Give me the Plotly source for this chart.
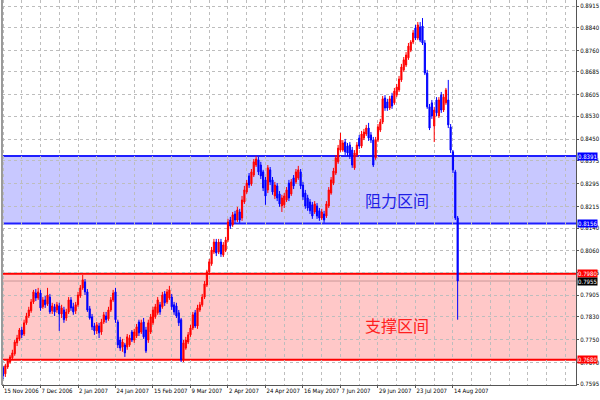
import plotly.graph_objects as go

open_ = [0.7652,0.7631,0.7655,0.7672,0.7687,0.7701,0.7739,0.7753,0.7784,0.7770,
0.7809,0.7833,0.7851,0.7882,0.7913,0.7896,0.7913,0.7865,0.7889,0.7875,
0.7899,0.7851,0.7865,0.7854,0.7868,0.7840,0.7854,0.7826,0.7847,0.7889,
0.7865,0.7851,0.7872,0.7903,0.7931,0.7952,0.7917,0.7858,0.7830,0.7798,
0.7781,0.7798,0.7777,0.7812,0.7833,0.7823,0.7854,0.7889,0.7917,0.7812,
0.7749,0.7725,0.7732,0.7725,0.7732,0.7777,0.7749,0.7763,0.7812,0.7777,
0.7812,0.7784,0.7749,0.7777,0.7809,0.7830,0.7844,0.7872,0.7865,0.7910,
0.7882,0.7896,0.7899,0.7872,0.7868,0.7844,0.7820,0.7680,0.7721,0.7742,
0.7767,0.7791,0.7844,0.7798,0.7854,0.7872,0.7899,0.7941,0.7987,0.8015,
0.8056,0.8091,0.8056,0.8091,0.8046,0.8063,0.8098,0.8168,0.8151,0.8189,
0.8168,0.8196,0.8175,0.8231,0.8266,0.8322,0.8294,0.8325,0.8360,0.8378,
0.8360,0.8336,0.8308,0.8273,0.8343,0.8308,0.8252,0.8287,0.8259,0.8217,
0.8221,0.8238,0.8297,0.8259,0.8315,0.8301,0.8315,0.8336,0.8290,0.8262,
0.8245,0.8231,0.8221,0.8196,0.8217,0.8200,0.8175,0.8189,0.8182,0.8217,
0.8262,0.8297,0.8332,0.8371,0.8412,0.8412,0.8440,0.8426,0.8430,0.8412,
0.8350,0.8395,0.8454,0.8426,0.8454,0.8468,0.8489,0.8465,0.8447,0.8385,
0.8447,0.8482,0.8510,0.8594,0.8580,0.8559,0.8601,0.8577,0.8604,0.8622,
0.8657,0.8692,0.8709,0.8734,0.8761,0.8789,0.8838,0.8803,0.8842,0.8845,
0.8786,0.8681,0.8563,0.8577,0.8496,0.8587,0.8531,0.8604,0.8552,0.8577,
0.8587,0.8493,0.8406,0.8336,0.8175]

high = [0.7659,0.7666,0.7683,0.7697,0.7715,0.7749,0.7767,0.7791,0.7795,0.7820,
0.7844,0.7865,0.7892,0.7924,0.7927,0.7931,0.7924,0.7899,0.7903,0.7931,
0.7910,0.7879,0.7875,0.7882,0.7879,0.7872,0.7865,0.7858,0.7899,0.7899,
0.7879,0.7882,0.7917,0.7941,0.7976,0.7962,0.7927,0.7868,0.7840,0.7809,
0.7812,0.7809,0.7823,0.7847,0.7847,0.7865,0.7899,0.7924,0.7931,0.7820,
0.7760,0.7753,0.7739,0.7770,0.7767,0.7784,0.7788,0.7805,0.7820,0.7820,
0.7826,0.7795,0.7820,0.7840,0.7865,0.7875,0.7899,0.7882,0.7917,0.7920,
0.7927,0.7938,0.7910,0.7882,0.7879,0.7854,0.7826,0.7749,0.7760,0.7777,
0.7802,0.7847,0.7854,0.7872,0.7882,0.7910,0.7955,0.7994,0.8032,0.8074,
0.8102,0.8102,0.8102,0.8102,0.8091,0.8109,0.8172,0.8179,0.8196,0.8200,
0.8214,0.8207,0.8252,0.8287,0.8308,0.8332,0.8346,0.8381,0.8392,0.8388,
0.8371,0.8343,0.8318,0.8360,0.8353,0.8318,0.8301,0.8297,0.8269,0.8256,
0.8262,0.8283,0.8308,0.8311,0.8325,0.8346,0.8357,0.8346,0.8301,0.8273,
0.8256,0.8241,0.8231,0.8234,0.8227,0.8210,0.8207,0.8200,0.8234,0.8283,
0.8318,0.8350,0.8395,0.8430,0.8472,0.8447,0.8451,0.8437,0.8440,0.8423,
0.8412,0.8440,0.8465,0.8479,0.8486,0.8500,0.8507,0.8475,0.8458,0.8458,
0.8503,0.8521,0.8601,0.8604,0.8591,0.8601,0.8612,0.8629,0.8643,0.8671,
0.8713,0.8737,0.8754,0.8786,0.8796,0.8831,0.8849,0.8859,0.8859,0.8873,
0.8796,0.8692,0.8573,0.8587,0.8563,0.8597,0.8597,0.8615,0.8608,0.8629,
0.8657,0.8503,0.8412,0.8343,0.8182]

low = [0.7613,0.7620,0.7648,0.7666,0.7680,0.7694,0.7728,0.7746,0.7756,0.7763,
0.7802,0.7826,0.7844,0.7875,0.7885,0.7889,0.7851,0.7858,0.7861,0.7868,
0.7840,0.7840,0.7833,0.7844,0.7781,0.7826,0.7809,0.7816,0.7840,0.7851,
0.7837,0.7840,0.7865,0.7896,0.7924,0.7906,0.7847,0.7820,0.7784,0.7767,
0.7770,0.7756,0.7767,0.7805,0.7809,0.7816,0.7847,0.7882,0.7809,0.7721,
0.7711,0.7708,0.7690,0.7715,0.7725,0.7742,0.7739,0.7756,0.7763,0.7770,
0.7753,0.7704,0.7739,0.7770,0.7802,0.7823,0.7837,0.7837,0.7858,0.7868,
0.7875,0.7889,0.7854,0.7837,0.7826,0.7798,0.7672,0.7672,0.7715,0.7735,
0.7760,0.7784,0.7791,0.7788,0.7847,0.7865,0.7892,0.7934,0.7976,0.8008,
0.8049,0.8042,0.8049,0.8039,0.8039,0.8056,0.8091,0.8137,0.8144,0.8158,
0.8161,0.8158,0.8165,0.8224,0.8259,0.8280,0.8287,0.8318,0.8353,0.8325,
0.8311,0.8269,0.8221,0.8262,0.8290,0.8256,0.8241,0.8234,0.8214,0.8196,
0.8210,0.8231,0.8234,0.8252,0.8276,0.8294,0.8308,0.8276,0.8238,0.8207,
0.8200,0.8189,0.8172,0.8189,0.8172,0.8165,0.8168,0.8158,0.8175,0.8210,
0.8256,0.8290,0.8325,0.8364,0.8406,0.8406,0.8395,0.8392,0.8381,0.8350,
0.8343,0.8388,0.8416,0.8419,0.8447,0.8461,0.8444,0.8437,0.8353,0.8378,
0.8440,0.8475,0.8503,0.8549,0.8549,0.8552,0.8556,0.8570,0.8597,0.8615,
0.8650,0.8685,0.8702,0.8727,0.8754,0.8782,0.8796,0.8796,0.8789,0.8779,
0.8674,0.8556,0.8482,0.8521,0.8440,0.8531,0.8524,0.8542,0.8545,0.8570,
0.8489,0.8402,0.8332,0.8168,0.7820]

close = [0.7624,0.7659,0.7676,0.7690,0.7704,0.7742,0.7756,0.7784,0.7767,0.7809,
0.7833,0.7854,0.7882,0.7917,0.7896,0.7917,0.7861,0.7889,0.7872,0.7906,
0.7847,0.7868,0.7847,0.7872,0.7840,0.7861,0.7820,0.7847,0.7889,0.7861,
0.7847,0.7872,0.7906,0.7931,0.7959,0.7917,0.7854,0.7826,0.7795,0.7781,
0.7802,0.7774,0.7812,0.7837,0.7820,0.7854,0.7889,0.7913,0.7820,0.7732,
0.7721,0.7742,0.7704,0.7760,0.7756,0.7749,0.7777,0.7795,0.7774,0.7809,
0.7760,0.7711,0.7809,0.7830,0.7854,0.7865,0.7889,0.7847,0.7906,0.7879,
0.7917,0.7924,0.7865,0.7847,0.7833,0.7809,0.7680,0.7739,0.7749,0.7767,
0.7791,0.7837,0.7798,0.7861,0.7872,0.7899,0.7945,0.7987,0.8022,0.8063,
0.8091,0.8053,0.8091,0.8049,0.8081,0.8098,0.8161,0.8147,0.8186,0.8168,
0.8203,0.8168,0.8238,0.8273,0.8297,0.8290,0.8336,0.8371,0.8381,0.8336,
0.8322,0.8280,0.8252,0.8350,0.8301,0.8266,0.8290,0.8245,0.8224,0.8245,
0.8252,0.8273,0.8245,0.8301,0.8287,0.8336,0.8343,0.8287,0.8249,0.8217,
0.8210,0.8200,0.8182,0.8224,0.8182,0.8175,0.8196,0.8168,0.8224,0.8273,
0.8308,0.8339,0.8385,0.8419,0.8447,0.8437,0.8406,0.8402,0.8392,0.8360,
0.8402,0.8430,0.8426,0.8468,0.8475,0.8489,0.8454,0.8447,0.8360,0.8447,
0.8493,0.8510,0.8591,0.8559,0.8559,0.8591,0.8566,0.8618,0.8632,0.8660,
0.8702,0.8727,0.8744,0.8775,0.8789,0.8821,0.8803,0.8849,0.8796,0.8786,
0.8681,0.8563,0.8489,0.8531,0.8552,0.8542,0.8587,0.8552,0.8597,0.8622,
0.8500,0.8412,0.8343,0.8175,0.7955]

date_labels = ["15 Nov 2006", "7 Dec 2006", "2 Jan 2007", "24 Jan 2007", "15 Feb 2007",
               "9 Mar 2007", "2 Apr 2007", "24 Apr 2007", "16 May 2007", "7 Jun 2007",
               "29 Jun 2007", "23 Jul 2007", "14 Aug 2007"]
label_step = 16
price_ticks = [0.8915, 0.8840, 0.8760, 0.8685, 0.8605, 0.8530, 0.8450, 0.8375, 0.8295,
               0.8215, 0.8140, 0.8060, 0.7985, 0.7905, 0.7830, 0.7750, 0.7670, 0.7595]
price_tick_text = ["%.4f" % v for v in price_ticks]

resist_low, resist_high = 0.8156, 0.8391
support_low, support_high = 0.7680, 0.7980
last_price = 0.7955
resist_label_y = 0.8238
support_label_y = 0.7802

bars = list(range(len(close)))

FONT = "Liberation Sans Narrow, Arial Narrow, DejaVu Sans Condensed, Liberation Sans, sans-serif"
TICK_SIZE = 6

fig = go.Figure()
fig.add_trace(go.Candlestick(
    x=bars, open=open_, high=high, low=low, close=close,
    increasing=dict(line=dict(color="#FF0000", width=1), fillcolor="#FF0000"),
    decreasing=dict(line=dict(color="#0000FF", width=1), fillcolor="#0000FF"),
    whiskerwidth=0, showlegend=False, hoverinfo="skip",
))

shapes = [
    dict(type="rect", xref="paper", x0=0, x1=1, yref="y", y0=resist_low, y1=resist_high,
         fillcolor="#C8C8FF", line=dict(width=0), layer="below"),
    dict(type="rect", xref="paper", x0=0, x1=1, yref="y", y0=support_low, y1=support_high,
         fillcolor="#FFC8C8", line=dict(width=0), layer="below"),
    dict(type="line", xref="paper", x0=0, x1=1, yref="y", y0=last_price, y1=last_price,
         line=dict(color="rgba(170,120,120,0.6)", width=1), layer="between"),
]
for v, c in [(resist_low, "#1E1EFF"), (resist_high, "#1E1EFF"),
             (support_low, "#FF0000"), (support_high, "#FF0000")]:
    shapes.append(dict(type="line", xref="paper", x0=0, x1=1, yref="y", y0=v, y1=v,
                       line=dict(color=c, width=2), layer="between"))
shapes.append(dict(type="line", xref="paper", yref="paper", x0=0, x1=0, y0=0, y1=1,
                   line=dict(color="#9A9A9A", width=2), layer="above"))

annotations = []
for v, bg in [(resist_high, "#0000FF"), (resist_low, "#0000FF"),
              (support_high, "#FF0000"), (last_price, "#000000"), (support_low, "#FF0000")]:
    annotations.append(dict(xref="paper", x=1, xanchor="left", xshift=1, yref="y", y=v,
                            yanchor="middle", text="%.4f" % v, showarrow=False,
                            bgcolor=bg, borderpad=0,
                            font=dict(family=FONT, size=TICK_SIZE, color="white")))
mid_x = 168
annotations.append(dict(x=mid_x, y=resist_label_y, text="阻力区间", showarrow=False,
                        font=dict(family="Noto Sans CJK SC", size=16, color="#1E1EE6")))
annotations.append(dict(x=mid_x, y=support_label_y, text="支撑区间", showarrow=False,
                        font=dict(family="Noto Sans CJK SC", size=16, color="#FF1E1E")))

fig.update_layout(
    width=600, height=400,
    margin=dict(l=2, r=24, t=0, b=15, autoexpand=False),
    paper_bgcolor="white", plot_bgcolor="white",
    shapes=shapes, annotations=annotations,
    showlegend=False,
    xaxis=dict(
        range=[-0.43, 244.5], rangeslider=dict(visible=False),
        tickvals=[i * label_step for i in range(len(date_labels))], ticktext=date_labels,
        ticklabelposition="outside right", tickangle=0, automargin=False,
        ticks="outside", ticklen=2, tickcolor="#555555",
        tickfont=dict(family=FONT, size=TICK_SIZE, color="black"),
        showgrid=True, gridcolor="#BDBDBD", griddash="dot", gridwidth=1,
        minor=dict(dtick=8, tick0=0, showgrid=True, gridcolor="#BDBDBD", griddash="dot", ticks=""),
        showline=True, linecolor="#555555", linewidth=1, zeroline=False,
    ),
    yaxis=dict(
        side="right", range=[0.7592, 0.8936], automargin=False,
        tickvals=price_ticks, ticktext=price_tick_text,
        ticks="outside", ticklen=2, tickcolor="#555555",
        tickfont=dict(family=FONT, size=TICK_SIZE, color="black"),
        showgrid=True, gridcolor="#BDBDBD", griddash="dot", gridwidth=1,
        showline=True, linecolor="#555555", linewidth=1, zeroline=False,
    ),
)

fig.write_html("out.html", config={"displayModeBar": False},
               post_script="document.body.style.margin='0';document.body.style.padding='0';")
